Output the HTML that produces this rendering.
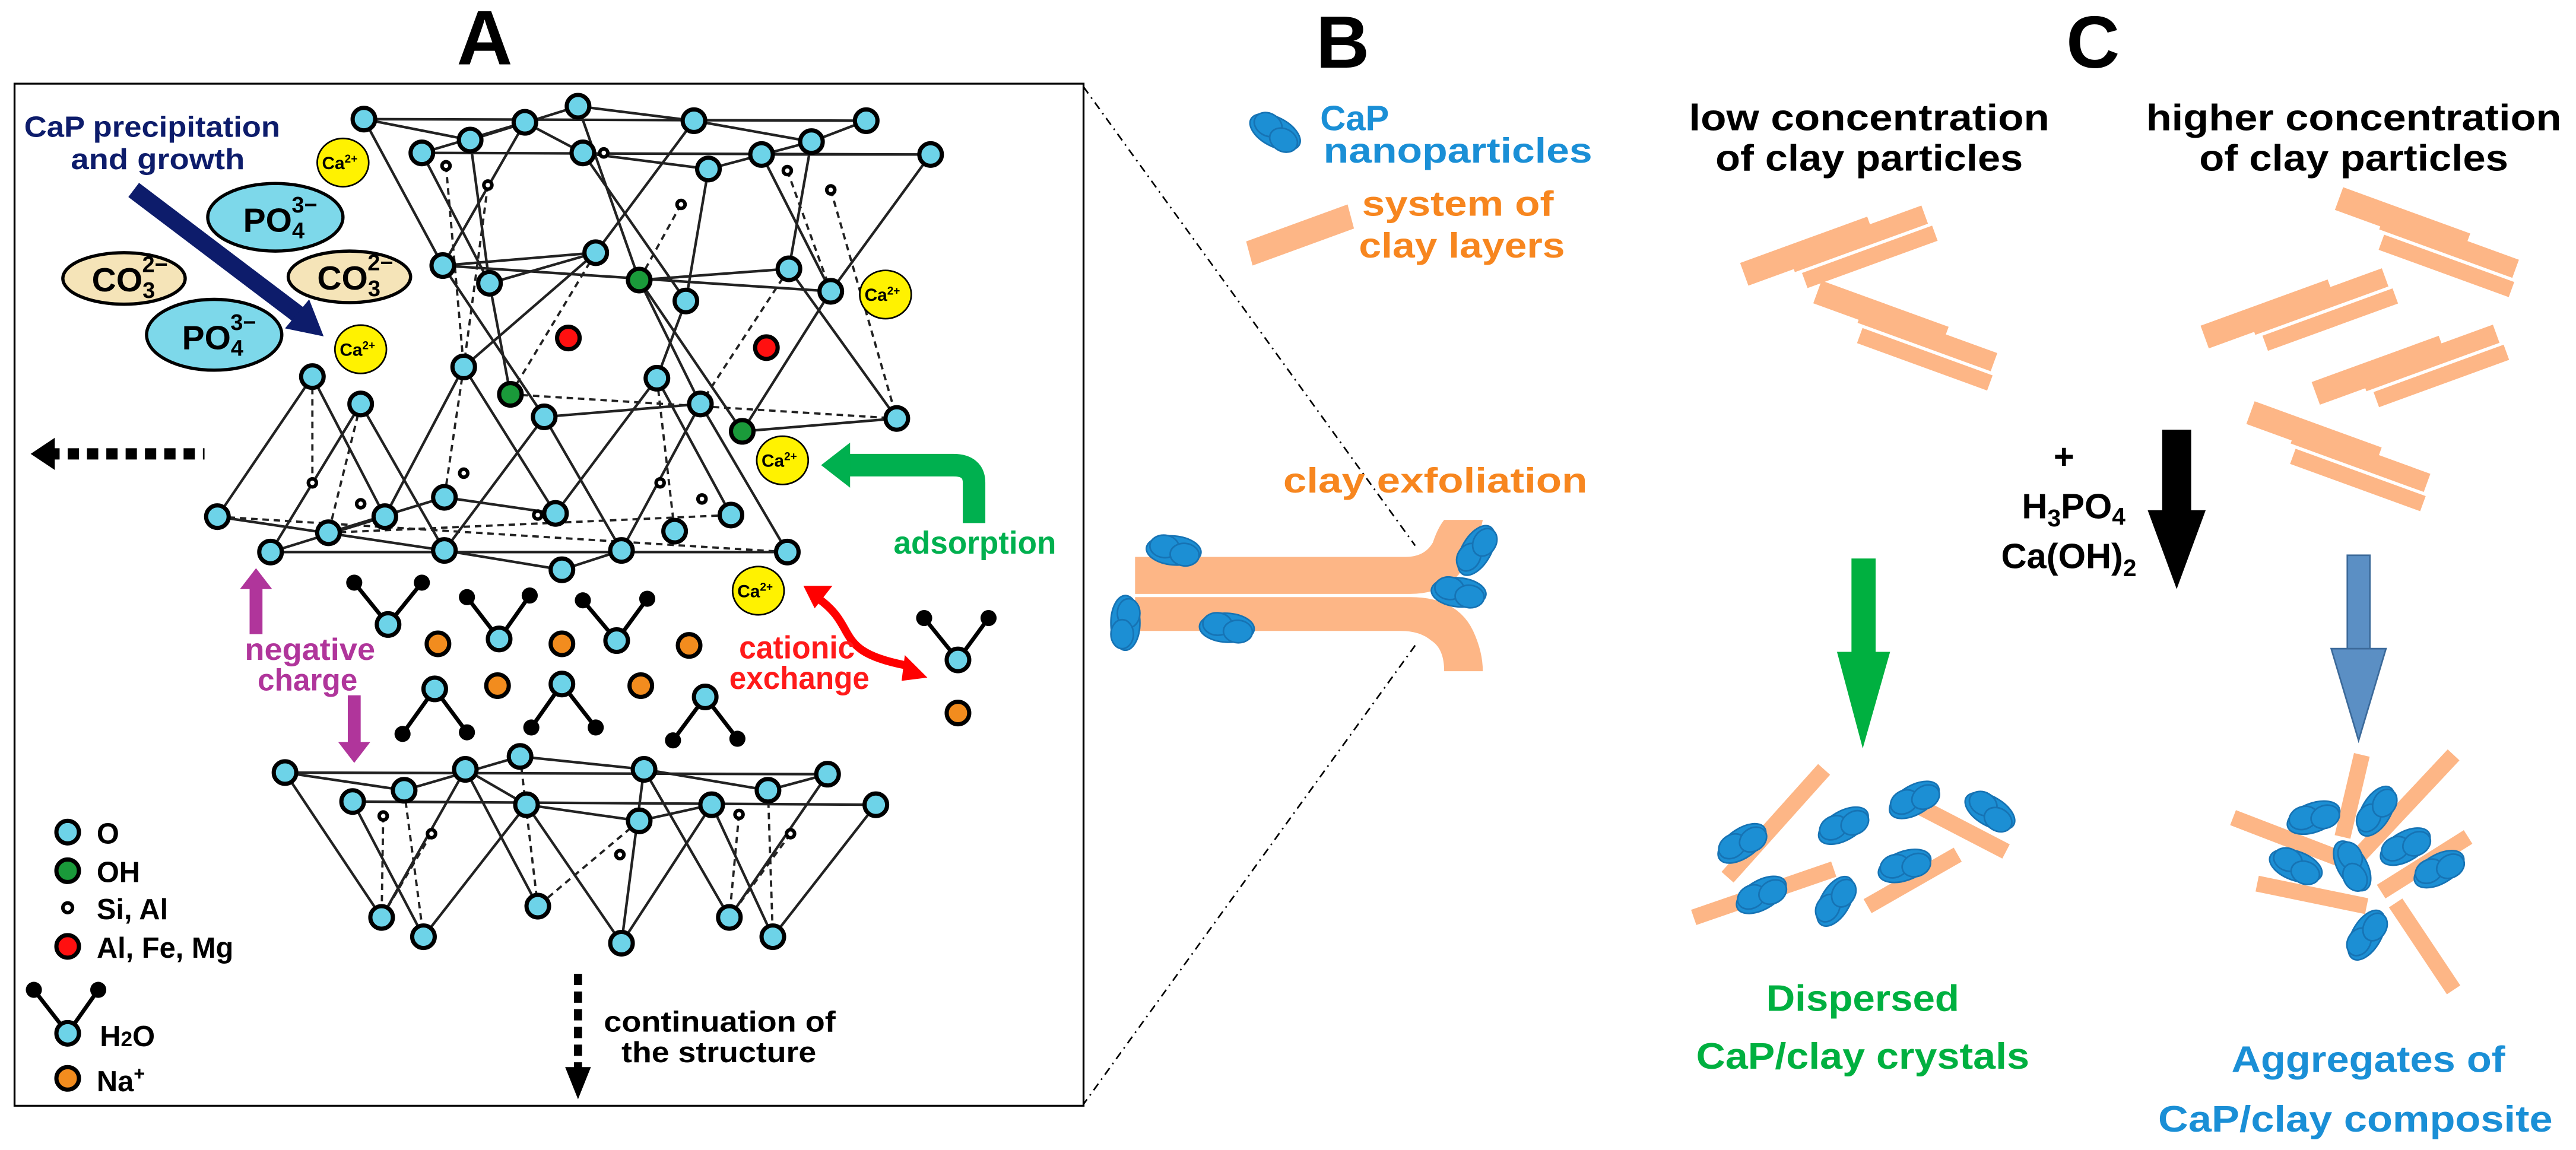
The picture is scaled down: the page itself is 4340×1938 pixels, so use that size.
<!DOCTYPE html>
<html><head><meta charset="utf-8"><style>
html,body{margin:0;padding:0;background:#fff}
svg{display:block}
text{font-family:"Liberation Sans Narrow","Liberation Sans",sans-serif;font-weight:bold}
.o{fill:#6dd3e8;stroke:#000;stroke-width:2.6}
.g{fill:#1a9a3a;stroke:#000;stroke-width:2.6}
.r{fill:#ff1010;stroke:#000;stroke-width:2.6}
.d{fill:#fff;stroke:#000;stroke-width:2.2}
.na{fill:#f28c1e;stroke:#000;stroke-width:2.6}
.ca{fill:#fff200;stroke:#000;stroke-width:1}
.ln line{stroke:#222;stroke-width:1.6}
.ds line{stroke:#222;stroke-width:1.4;stroke-dasharray:4 3}
.h{fill:#000}
.cl{fill:#fdb686}
.bl{fill:#1c8fd4;stroke:#1673b4;stroke-width:1}
</style></head><body>
<svg width="4340" height="1938" viewBox="0 0 1600 714.5" xmlns="http://www.w3.org/2000/svg">
<defs>
<g id="stk" class="cl"><rect x="-60" y="-14" width="84" height="15"/><rect x="-30" y="-9" width="88" height="12"/><rect x="-26" y="5" width="86" height="10"/></g>
<g id="blob"><ellipse class="bl" cx="0" cy="0" rx="17" ry="9"/><ellipse class="bl" cx="-6" cy="-2" rx="9" ry="7"/><ellipse class="bl" cx="7" cy="2" rx="9" ry="7"/></g>
</defs>

<text x="301" y="40" font-size="48" text-anchor="middle">A</text>
<text x="834" y="42" font-size="46" text-anchor="middle">B</text>
<text x="1300" y="42" font-size="46" text-anchor="middle">C</text>

<rect x="9" y="52" width="664" height="635" fill="none" stroke="#000" stroke-width="1.2"/>
<line x1="673" y1="54" x2="879" y2="339" stroke="#000" stroke-width="1" stroke-dasharray="5 3 1 3"/>
<line x1="879" y1="401" x2="673" y2="686" stroke="#000" stroke-width="1" stroke-dasharray="5 3 1 3"/>

<g class="ln">
<line x1="226" y1="74" x2="538" y2="75"/><line x1="226" y1="74" x2="292" y2="87"/><line x1="292" y1="87" x2="359" y2="66"/>
<line x1="359" y1="66" x2="431" y2="75"/><line x1="431" y1="75" x2="504" y2="88"/><line x1="504" y1="88" x2="538" y2="75"/>
<line x1="262" y1="95" x2="578" y2="96"/><line x1="262" y1="95" x2="326" y2="76"/><line x1="326" y1="76" x2="362" y2="95"/>
<line x1="362" y1="95" x2="440" y2="105"/><line x1="440" y1="105" x2="504" y2="88"/><line x1="473" y1="96" x2="578" y2="96"/>
<line x1="226" y1="74" x2="275" y2="165"/><line x1="262" y1="95" x2="304" y2="176"/><line x1="326" y1="76" x2="275" y2="165"/>
<line x1="362" y1="95" x2="426" y2="187"/><line x1="431" y1="75" x2="370" y2="157"/><line x1="440" y1="105" x2="426" y2="187"/>
<line x1="473" y1="96" x2="516" y2="181"/><line x1="578" y1="96" x2="516" y2="181"/><line x1="292" y1="87" x2="304" y2="176"/>
<line x1="504" y1="88" x2="490" y2="167"/><line x1="359" y1="66" x2="397" y2="174"/>
<line x1="275" y1="165" x2="516" y2="181"/><line x1="275" y1="165" x2="370" y2="157"/><line x1="304" y1="176" x2="370" y2="157"/>
<line x1="397" y1="174" x2="490" y2="167"/>
<line x1="275" y1="165" x2="338" y2="259"/><line x1="304" y1="176" x2="317" y2="245"/><line x1="370" y1="157" x2="288" y2="228"/>
<line x1="397" y1="174" x2="461" y2="268"/><line x1="426" y1="187" x2="408" y2="235"/><line x1="516" y1="181" x2="461" y2="268"/>
<line x1="490" y1="167" x2="557" y2="260"/><line x1="397" y1="174" x2="435" y2="251"/>
<line x1="338" y1="259" x2="435" y2="251"/><line x1="461" y1="268" x2="557" y2="260"/>
<line x1="194" y1="234" x2="135" y2="321"/><line x1="194" y1="234" x2="239" y2="321"/><line x1="224" y1="251" x2="168" y2="343"/>
<line x1="224" y1="251" x2="276" y2="342"/><line x1="288" y1="228" x2="239" y2="321"/><line x1="288" y1="228" x2="345" y2="319"/>
<line x1="338" y1="259" x2="276" y2="342"/><line x1="338" y1="259" x2="386" y2="342"/><line x1="408" y1="235" x2="345" y2="319"/>
<line x1="408" y1="235" x2="454" y2="320"/><line x1="435" y1="251" x2="386" y2="342"/><line x1="435" y1="251" x2="489" y2="343"/>
<line x1="135" y1="321" x2="276" y2="342"/><line x1="168" y1="343" x2="489" y2="343"/><line x1="168" y1="343" x2="239" y2="321"/>
<line x1="276" y1="342" x2="349" y2="354"/><line x1="349" y1="354" x2="386" y2="342"/><line x1="276" y1="309" x2="345" y2="319"/>
<line x1="204" y1="331" x2="276" y2="309"/>
</g>
<g class="ds">
<line x1="277" y1="103" x2="288" y2="228"/><line x1="303" y1="115" x2="288" y2="228"/><line x1="423" y1="127" x2="397" y2="174"/>
<line x1="489" y1="106" x2="516" y2="181"/><line x1="516" y1="118" x2="557" y2="260"/><line x1="370" y1="157" x2="317" y2="245"/>
<line x1="317" y1="245" x2="557" y2="260"/><line x1="490" y1="167" x2="435" y2="251"/>
<line x1="135" y1="321" x2="489" y2="343"/><line x1="204" y1="331" x2="454" y2="320"/><line x1="194" y1="234" x2="194" y2="300"/>
<line x1="288" y1="228" x2="276" y2="309"/><line x1="408" y1="235" x2="419" y2="330"/><line x1="224" y1="251" x2="204" y2="331"/>
</g>

<g class="ln">
<line x1="177" y1="480" x2="514" y2="481"/><line x1="219" y1="498" x2="544" y2="500"/><line x1="177" y1="480" x2="251" y2="491"/>
<line x1="251" y1="491" x2="323" y2="470"/><line x1="323" y1="470" x2="400" y2="478"/><line x1="400" y1="478" x2="477" y2="491"/>
<line x1="477" y1="491" x2="514" y2="481"/><line x1="289" y1="478" x2="327" y2="500"/><line x1="327" y1="500" x2="397" y2="510"/>
<line x1="397" y1="510" x2="442" y2="500"/><line x1="177" y1="480" x2="237" y2="570"/><line x1="219" y1="498" x2="263" y2="582"/>
<line x1="289" y1="478" x2="237" y2="570"/><line x1="327" y1="500" x2="263" y2="582"/><line x1="327" y1="500" x2="386" y2="586"/>
<line x1="400" y1="478" x2="386" y2="586"/><line x1="289" y1="478" x2="334" y2="563"/><line x1="442" y1="500" x2="386" y2="586"/>
<line x1="400" y1="478" x2="453" y2="570"/><line x1="442" y1="500" x2="480" y2="582"/><line x1="514" y1="481" x2="453" y2="570"/>
<line x1="544" y1="500" x2="480" y2="582"/>
</g>
<g class="ds">
<line x1="251" y1="491" x2="263" y2="582"/><line x1="238" y1="507" x2="237" y2="570"/><line x1="268" y1="518" x2="237" y2="570"/>
<line x1="323" y1="470" x2="334" y2="563"/><line x1="397" y1="510" x2="334" y2="563"/><line x1="477" y1="491" x2="480" y2="582"/>
<line x1="459" y1="506" x2="453" y2="570"/><line x1="491" y1="518" x2="453" y2="570"/>
</g>

<g>
<circle class="o" cx="226" cy="74" r="7"/><circle class="o" cx="326" cy="76" r="7"/><circle class="o" cx="359" cy="66" r="7"/>
<circle class="o" cx="431" cy="75" r="7"/><circle class="o" cx="538" cy="75" r="7"/><circle class="o" cx="292" cy="87" r="7"/>
<circle class="o" cx="262" cy="95" r="7"/><circle class="o" cx="362" cy="95" r="7"/><circle class="o" cx="440" cy="105" r="7"/>
<circle class="o" cx="473" cy="96" r="7"/><circle class="o" cx="504" cy="88" r="7"/><circle class="o" cx="578" cy="96" r="7"/>
<circle class="d" cx="277" cy="103" r="2.5"/><circle class="d" cx="303" cy="115" r="2.5"/><circle class="d" cx="423" cy="127" r="2.5"/>
<circle class="d" cx="489" cy="106" r="2.5"/><circle class="d" cx="516" cy="118" r="2.5"/><circle class="d" cx="375" cy="95" r="2.5"/>
<circle class="o" cx="275" cy="165" r="7"/><circle class="o" cx="304" cy="176" r="7"/><circle class="o" cx="370" cy="157" r="7"/>
<circle class="g" cx="397" cy="174" r="7"/><circle class="o" cx="426" cy="187" r="7"/><circle class="o" cx="490" cy="167" r="7"/>
<circle class="o" cx="516" cy="181" r="7"/>
<circle class="r" cx="353" cy="210" r="7"/><circle class="r" cx="476" cy="216" r="7"/>
<circle class="g" cx="317" cy="245" r="7"/><circle class="o" cx="338" cy="259" r="7"/><circle class="o" cx="435" cy="251" r="7"/>
<circle class="g" cx="461" cy="268" r="7"/><circle class="o" cx="557" cy="260" r="7"/><circle class="o" cx="288" cy="228" r="7"/>
<circle class="o" cx="408" cy="235" r="7"/><circle class="o" cx="194" cy="234" r="7"/><circle class="o" cx="224" cy="251" r="7"/>
<circle class="o" cx="135" cy="321" r="7"/><circle class="o" cx="168" cy="343" r="7"/><circle class="o" cx="204" cy="331" r="7"/>
<circle class="o" cx="239" cy="321" r="7"/><circle class="o" cx="276" cy="309" r="7"/><circle class="o" cx="276" cy="342" r="7"/>
<circle class="o" cx="345" cy="319" r="7"/><circle class="o" cx="349" cy="354" r="7"/><circle class="o" cx="386" cy="342" r="7"/>
<circle class="o" cx="419" cy="330" r="7"/><circle class="o" cx="454" cy="320" r="7"/><circle class="o" cx="489" cy="343" r="7"/>
<circle class="d" cx="194" cy="300" r="2.5"/><circle class="d" cx="224" cy="313" r="2.5"/><circle class="d" cx="288" cy="294" r="2.5"/>
<circle class="d" cx="410" cy="300" r="2.5"/><circle class="d" cx="436" cy="310" r="2.5"/><circle class="d" cx="334" cy="320" r="2.5"/>
</g>

<g>
<circle class="o" cx="177" cy="480" r="7"/><circle class="o" cx="251" cy="491" r="7"/><circle class="o" cx="219" cy="498" r="7"/>
<circle class="o" cx="289" cy="478" r="7"/><circle class="o" cx="323" cy="470" r="7"/><circle class="o" cx="327" cy="500" r="7"/>
<circle class="o" cx="400" cy="478" r="7"/><circle class="o" cx="397" cy="510" r="7"/><circle class="o" cx="442" cy="500" r="7"/>
<circle class="o" cx="477" cy="491" r="7"/><circle class="o" cx="514" cy="481" r="7"/><circle class="o" cx="544" cy="500" r="7"/>
<circle class="o" cx="237" cy="570" r="7"/><circle class="o" cx="263" cy="582" r="7"/><circle class="o" cx="334" cy="563" r="7"/>
<circle class="o" cx="386" cy="586" r="7"/><circle class="o" cx="453" cy="570" r="7"/><circle class="o" cx="480" cy="582" r="7"/>
<circle class="d" cx="238" cy="507" r="2.5"/><circle class="d" cx="268" cy="518" r="2.5"/><circle class="d" cx="385" cy="531" r="2.5"/>
<circle class="d" cx="459" cy="506" r="2.5"/><circle class="d" cx="491" cy="518" r="2.5"/>
</g>

<g stroke="#000" stroke-width="2.5">
<line x1="241" y1="388" x2="220" y2="362"/><line x1="241" y1="388" x2="262" y2="362"/>
<line x1="310" y1="397" x2="290" y2="371"/><line x1="310" y1="397" x2="329" y2="370"/>
<line x1="383" y1="398" x2="362" y2="373"/><line x1="383" y1="398" x2="402" y2="372"/>
<line x1="270" y1="428" x2="250" y2="456"/><line x1="270" y1="428" x2="290" y2="455"/>
<line x1="349" y1="425" x2="330" y2="452"/><line x1="349" y1="425" x2="370" y2="452"/>
<line x1="438" y1="433" x2="418" y2="460"/><line x1="438" y1="433" x2="458" y2="459"/>
<line x1="595" y1="410" x2="574" y2="384"/><line x1="595" y1="410" x2="614" y2="384"/>
<line x1="42" y1="642" x2="21" y2="615"/><line x1="42" y1="642" x2="61" y2="615"/>
</g>
<g class="h">
<circle cx="220" cy="362" r="5"/><circle cx="262" cy="362" r="5"/><circle cx="290" cy="371" r="5"/><circle cx="329" cy="370" r="5"/>
<circle cx="362" cy="373" r="5"/><circle cx="402" cy="372" r="5"/><circle cx="250" cy="456" r="5"/><circle cx="290" cy="455" r="5"/>
<circle cx="330" cy="452" r="5"/><circle cx="370" cy="452" r="5"/><circle cx="418" cy="460" r="5"/><circle cx="458" cy="459" r="5"/>
<circle cx="574" cy="384" r="5"/><circle cx="614" cy="384" r="5"/><circle cx="21" cy="615" r="5"/><circle cx="61" cy="615" r="5"/>
</g>
<circle class="o" cx="241" cy="388" r="7"/><circle class="o" cx="310" cy="397" r="7"/><circle class="o" cx="383" cy="398" r="7"/>
<circle class="o" cx="270" cy="428" r="7"/><circle class="o" cx="349" cy="425" r="7"/><circle class="o" cx="438" cy="433" r="7"/>
<circle class="o" cx="595" cy="410" r="7"/>
<circle class="na" cx="272" cy="400" r="7"/><circle class="na" cx="349" cy="400" r="7"/><circle class="na" cx="428" cy="401" r="7"/>
<circle class="na" cx="309" cy="426" r="7"/><circle class="na" cx="398" cy="426" r="7"/><circle class="na" cx="595" cy="443" r="7"/>

<g font-size="11" text-anchor="middle">
<ellipse class="ca" cx="213" cy="101" rx="16" ry="15"/><text x="211" y="105">Ca<tspan font-size="7" dy="-4">2+</tspan></text>
<ellipse class="ca" cx="224" cy="217" rx="16" ry="15"/><text x="222" y="221">Ca<tspan font-size="7" dy="-4">2+</tspan></text>
<ellipse class="ca" cx="550" cy="183" rx="16" ry="15"/><text x="548" y="187">Ca<tspan font-size="7" dy="-4">2+</tspan></text>
<ellipse class="ca" cx="486" cy="286" rx="16" ry="15"/><text x="484" y="290">Ca<tspan font-size="7" dy="-4">2+</tspan></text>
<ellipse class="ca" cx="471" cy="367" rx="16" ry="15"/><text x="469" y="371">Ca<tspan font-size="7" dy="-4">2+</tspan></text>
</g>

<ellipse cx="171" cy="135" rx="42" ry="21" fill="#7dd8ea" stroke="#000" stroke-width="2"/>
<ellipse cx="133" cy="208" rx="42" ry="22" fill="#7dd8ea" stroke="#000" stroke-width="2"/>
<ellipse cx="77" cy="173" rx="38" ry="16" fill="#f5e4b8" stroke="#000" stroke-width="2"/>
<ellipse cx="217" cy="172" rx="38" ry="16" fill="#f5e4b8" stroke="#000" stroke-width="2"/>
<g font-size="21" font-weight="normal">
<text x="151" y="144">PO<tspan font-size="14" dy="4">4</tspan><tspan font-size="14" dx="-8" dy="-16">3−</tspan></text>
<text x="113" y="217">PO<tspan font-size="14" dy="4">4</tspan><tspan font-size="14" dx="-8" dy="-16">3−</tspan></text>
<text x="57" y="181">CO<tspan font-size="14" dy="4">3</tspan><tspan font-size="14" dx="-8" dy="-16">2−</tspan></text>
<text x="197" y="180">CO<tspan font-size="14" dy="4">3</tspan><tspan font-size="14" dx="-8" dy="-16">2−</tspan></text>
</g>

<g fill="#0d1c6b" font-size="18">
<text x="15" y="85" textLength="159" lengthAdjust="spacingAndGlyphs">CaP precipitation</text>
<text x="44" y="105" textLength="108" lengthAdjust="spacingAndGlyphs">and growth</text>
</g>
<line x1="83" y1="118" x2="186" y2="196" stroke="#0d1c6b" stroke-width="11"/>
<polygon points="201,209 177,204 192,186" fill="#0d1c6b"/>

<line x1="30" y1="282" x2="127" y2="282" stroke="#000" stroke-width="7" stroke-dasharray="7 5"/>
<polygon points="19,282 34,272 34,292" fill="#000"/>

<path d="M605,325 L605,300 Q605,289 592,289 L525,289" fill="none" stroke="#00b04f" stroke-width="14"/>
<polygon points="510,289 528,275 528,303" fill="#00b04f"/>
<text x="555" y="344" font-size="20" fill="#00b04f" textLength="101" lengthAdjust="spacingAndGlyphs">adsorption</text>

<path d="M507,371 C535,390 515,405 566,414" fill="none" stroke="#ff0000" stroke-width="5"/>
<polygon points="499,364 517,364 506,378" fill="#ff0000"/>
<polygon points="576,421 562,407 560,423" fill="#ff0000"/>
<g font-size="20" fill="#ff1a1a">
<text x="459" y="409" textLength="72" lengthAdjust="spacingAndGlyphs">cationic</text>
<text x="453" y="428" textLength="87" lengthAdjust="spacingAndGlyphs">exchange</text>
</g>

<rect x="155" y="364" width="8" height="30" fill="#b0359b"/><polygon points="159,353 149,366 169,366" fill="#b0359b"/>
<rect x="216" y="432" width="8" height="30" fill="#b0359b"/><polygon points="220,474 210,461 230,461" fill="#b0359b"/>
<g font-size="19" fill="#b0359b">
<text x="152" y="410" textLength="81" lengthAdjust="spacingAndGlyphs">negative</text>
<text x="160" y="429" textLength="62" lengthAdjust="spacingAndGlyphs">charge</text>
</g>

<circle class="o" cx="42" cy="517" r="7"/><circle class="g" cx="42" cy="541" r="7"/><circle class="d" cx="42" cy="564" r="3"/>
<circle class="r" cx="42" cy="588" r="7"/><circle class="o" cx="42" cy="642" r="7"/><circle class="na" cx="42" cy="670" r="7"/>
<g font-size="18">
<text x="60" y="524">O</text><text x="60" y="548">OH</text><text x="60" y="571">Si, Al</text>
<text x="60" y="595">Al, Fe, Mg</text><text x="62" y="650">H<tspan font-size="13">2</tspan>O</text>
<text x="60" y="678">Na<tspan font-size="12" dy="-7">+</tspan></text>
</g>

<line x1="359" y1="605" x2="359" y2="664" stroke="#000" stroke-width="5" stroke-dasharray="7 4"/>
<polygon points="359,683 351,663 367,663" fill="#000"/>
<g font-size="18">
<text x="375" y="641" textLength="144" lengthAdjust="spacingAndGlyphs">continuation of</text>
<text x="386" y="660" textLength="121" lengthAdjust="spacingAndGlyphs">the structure</text>
</g>

<use href="#blob" transform="translate(792,82) rotate(28)"/>
<g font-size="22" fill="#1a8fd6">
<text x="820" y="81">CaP</text>
<text x="822" y="101" textLength="167" lengthAdjust="spacingAndGlyphs">nanoparticles</text>
</g>
<polygon points="774,150 837,127 841,142 778,165" class="cl"/>
<g font-size="22" fill="#f7861f">
<text x="846" y="134" textLength="119" lengthAdjust="spacingAndGlyphs">system of</text>
<text x="844" y="160" textLength="128" lengthAdjust="spacingAndGlyphs">clay layers</text>
<text x="797" y="306" textLength="189" lengthAdjust="spacingAndGlyphs">clay exfoliation</text>
</g>
<path class="cl" d="M705,346 L873,346 Q885,346 890,337 Q893,328 897,323 L921,323 Q917,342 906,357 Q895,369 876,369 L705,369 Z"/>
<path class="cl" d="M705,371 L876,371 Q905,371 915,392 Q921,405 921,417 L897,417 Q897,403 889,398 Q882,392 870,392 L705,392 Z"/>
<use href="#blob" transform="translate(729,342) rotate(5)"/>
<use href="#blob" transform="translate(699,387) rotate(90)"/>
<use href="#blob" transform="translate(762,390) rotate(3)"/>
<use href="#blob" transform="translate(917,342) rotate(-60)"/>
<use href="#blob" transform="translate(906,368) rotate(5)"/>

<g font-size="23" text-anchor="middle">
<text x="1161" y="81" textLength="224" lengthAdjust="spacingAndGlyphs">low concentration</text>
<text x="1161" y="106" textLength="191" lengthAdjust="spacingAndGlyphs">of clay particles</text>
<text x="1462" y="81" textLength="258" lengthAdjust="spacingAndGlyphs">higher concentration</text>
<text x="1462" y="106" textLength="192" lengthAdjust="spacingAndGlyphs">of clay particles</text>
</g>
<use href="#stk" transform="translate(1142,156) rotate(-20)"/>
<use href="#stk" transform="translate(1183,208) rotate(20)"/>
<use href="#stk" transform="translate(1507,150) rotate(20)"/>
<use href="#stk" transform="translate(1428,195) rotate(-20)"/>
<use href="#stk" transform="translate(1497,230) rotate(-20)"/>
<use href="#stk" transform="translate(1452,283) rotate(20)"/>

<rect x="1343" y="267" width="18" height="52" fill="#000"/>
<polygon points="1334,317 1370,317 1352,366" fill="#000"/>
<g font-size="22" text-anchor="middle">
<text x="1282" y="291">+</text>
<text x="1288" y="322">H<tspan font-size="15" dy="5">3</tspan><tspan dy="-5">PO</tspan><tspan font-size="15" dy="4">4</tspan></text>
<text x="1285" y="353">Ca(OH)<tspan font-size="15" dy="5">2</tspan></text>
</g>

<rect x="1150" y="347" width="15" height="60" fill="#00b040"/>
<polygon points="1141,405 1174,405 1157,465" fill="#00b040"/>
<rect x="1458" y="345" width="14" height="59" fill="#5b8fc4" stroke="#3c6a9a" stroke-width="1"/>
<polygon points="1448,403 1482,403 1465,460" fill="#5b8fc4" stroke="#3c6a9a" stroke-width="1"/>

<g stroke="#fdb686" stroke-width="10">
<line x1="1133" y1="478" x2="1073" y2="545"/><line x1="1052" y1="570" x2="1139" y2="540"/>
<line x1="1192" y1="501" x2="1246" y2="529"/><line x1="1160" y1="563" x2="1216" y2="531"/>
</g>
<use href="#blob" transform="translate(1082,524) rotate(-35)"/>
<use href="#blob" transform="translate(1145,513) rotate(-30)"/>
<use href="#blob" transform="translate(1189,497) rotate(-30)"/>
<use href="#blob" transform="translate(1236,504) rotate(30)"/>
<use href="#blob" transform="translate(1094,556) rotate(-30)"/>
<use href="#blob" transform="translate(1140,560) rotate(-60)"/>
<use href="#blob" transform="translate(1183,538) rotate(-20)"/>
<g font-size="23" fill="#00b040" text-anchor="middle">
<text x="1157" y="628" textLength="120" lengthAdjust="spacingAndGlyphs">Dispersed</text>
<text x="1157" y="664" textLength="207" lengthAdjust="spacingAndGlyphs">CaP/clay crystals</text>
</g>

<g stroke="#fdb686" stroke-width="10">
<line x1="1467" y1="469" x2="1455" y2="520"/><line x1="1524" y1="469" x2="1464" y2="533"/>
<line x1="1387" y1="508" x2="1452" y2="533"/><line x1="1533" y1="520" x2="1479" y2="554"/>
<line x1="1402" y1="549" x2="1470" y2="563"/><line x1="1488" y1="561" x2="1524" y2="615"/>
</g>
<use href="#blob" transform="translate(1437,508) rotate(-20)"/>
<use href="#blob" transform="translate(1476,504) rotate(-60)"/>
<use href="#blob" transform="translate(1494,526) rotate(-30)"/>
<use href="#blob" transform="translate(1426,538) rotate(20)"/>
<use href="#blob" transform="translate(1461,538) rotate(60)"/>
<use href="#blob" transform="translate(1515,540) rotate(-30)"/>
<use href="#blob" transform="translate(1470,581) rotate(-60)"/>
<g font-size="23" fill="#1a8fd6" text-anchor="middle">
<text x="1471" y="666" textLength="170" lengthAdjust="spacingAndGlyphs">Aggregates of</text>
<text x="1463" y="703" textLength="245" lengthAdjust="spacingAndGlyphs">CaP/clay composite</text>
</g>
</svg>
</body></html>
